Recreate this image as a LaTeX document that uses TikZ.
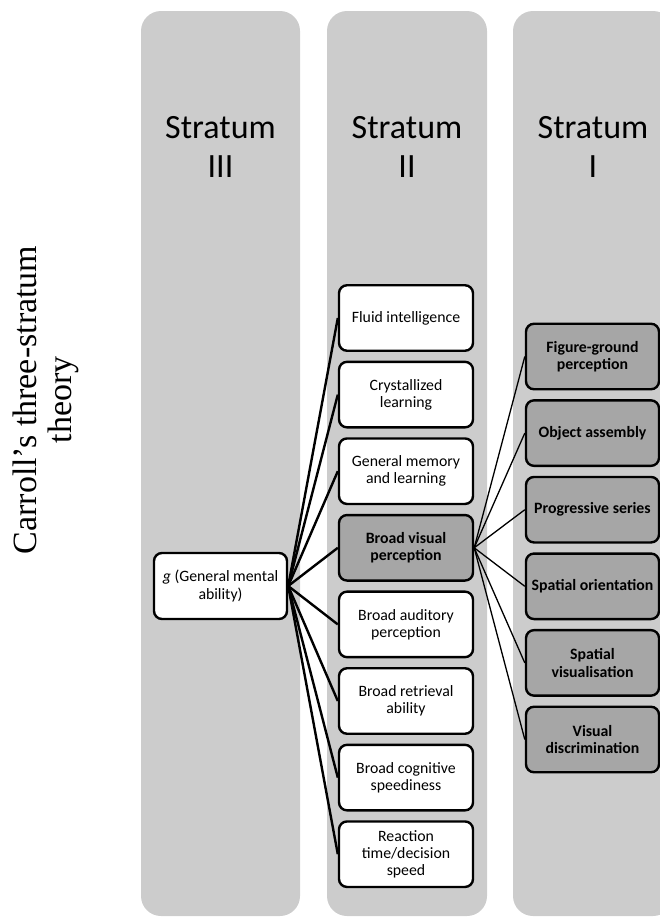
\documentclass[tikz,border=0pt]{standalone}
\usepackage{fontspec}
\setmainfont{Carlito}
\newfontfamily\titlefont{Liberation Serif}

\definecolor{colgray}{HTML}{CCCCCC}
\definecolor{boxgray}{HTML}{A6A6A6}

\tikzset{
  column/.style={fill=colgray, draw=none, rounded corners=20pt},
  stratumlabel/.style={font=\fontsize{34}{39}\selectfont, align=center, inner sep=0pt},
  abilitybox/.style={draw=black, line width=2.4pt, rounded corners=8pt, fill=white,
    minimum width=134pt, minimum height=65.5pt, inner sep=2pt, align=center,
    font=\fontsize{15.8}{17.2}\selectfont},
  visualbox/.style={abilitybox, fill=boxgray, font=\fontsize{15.8}{17.2}\selectfont\bfseries},
  broadlink/.style={draw=black, line width=2.4pt},
  narrowlink/.style={draw=black, line width=1.3pt}
}

\begin{document}
\begin{tikzpicture}[x=1pt, y=-1pt]
\useasboundingbox (0,0) rectangle (660,918);
\clip (0,0) rectangle (660,918);

% three stratum columns
\fill[column] (141,11) rectangle (300,916);
\fill[column] (327,11) rectangle (487,916);
\fill[column] (513,11) rectangle (673,916);

% column headings (base anchor sits on the second line)
\node[stratumlabel, anchor=base] (h3) at (220.5,177) {Stratum\\III};
\node[stratumlabel, anchor=base] (h2) at (407,177) {Stratum\\II};
\node[stratumlabel, anchor=base] (h1) at (593,177) {Stratum\\I};

% side title
\node[rotate=90, align=center, inner sep=0pt,
      font=\titlefont\fontsize{34}{35}\selectfont] (title) at (46,400)
  {Carroll’s three-stratum\\theory};

% stratum III
\node[abilitybox, minimum width=133pt, minimum height=66pt] (g) at (220.5,586)
  {\textit{g} (General mental\\ability)};

% stratum II
\node[abilitybox] (fluid) at (406,318)   {Fluid intelligence};
\node[abilitybox] (cryst) at (406,394.6) {Crystallized\\learning};
\node[abilitybox] (mem)   at (406,471.2) {General memory\\and learning};
\node[visualbox]  (vis)   at (406,547.8) {Broad visual\\perception};
\node[abilitybox] (aud)   at (406,624.4) {Broad auditory\\perception};
\node[abilitybox] (retr)  at (406,701)   {Broad retrieval\\ability};
\node[abilitybox] (cog)   at (406,777.6) {Broad cognitive\\speediness};
\node[abilitybox] (react) at (406,854.2) {Reaction\\time/decision\\speed};

% stratum I
\node[visualbox, minimum width=133pt] (fig)  at (592.5,356.5) {Figure-ground\\perception};
\node[visualbox, minimum width=133pt] (obj)  at (592.5,433.1) {Object assembly};
\node[visualbox, minimum width=133pt] (prog) at (592.5,509.7) {Progressive series};
\node[visualbox, minimum width=133pt] (ori)  at (592.5,586.3) {Spatial orientation};
\node[visualbox, minimum width=133pt] (svis) at (592.5,662.9) {Spatial\\visualisation};
\node[visualbox, minimum width=133pt] (disc) at (592.5,739.5) {Visual\\discrimination};

% links from g to the broad abilities
\foreach \n in {fluid,cryst,mem,vis,aud,retr,cog,react}
  \draw[broadlink] (g.east) -- (\n.west);

% links from broad visual perception to the narrow abilities
\foreach \n in {fig,obj,prog,ori,svis,disc}
  \draw[narrowlink] (vis.east) -- (\n.west);
\end{tikzpicture}
\end{document}
